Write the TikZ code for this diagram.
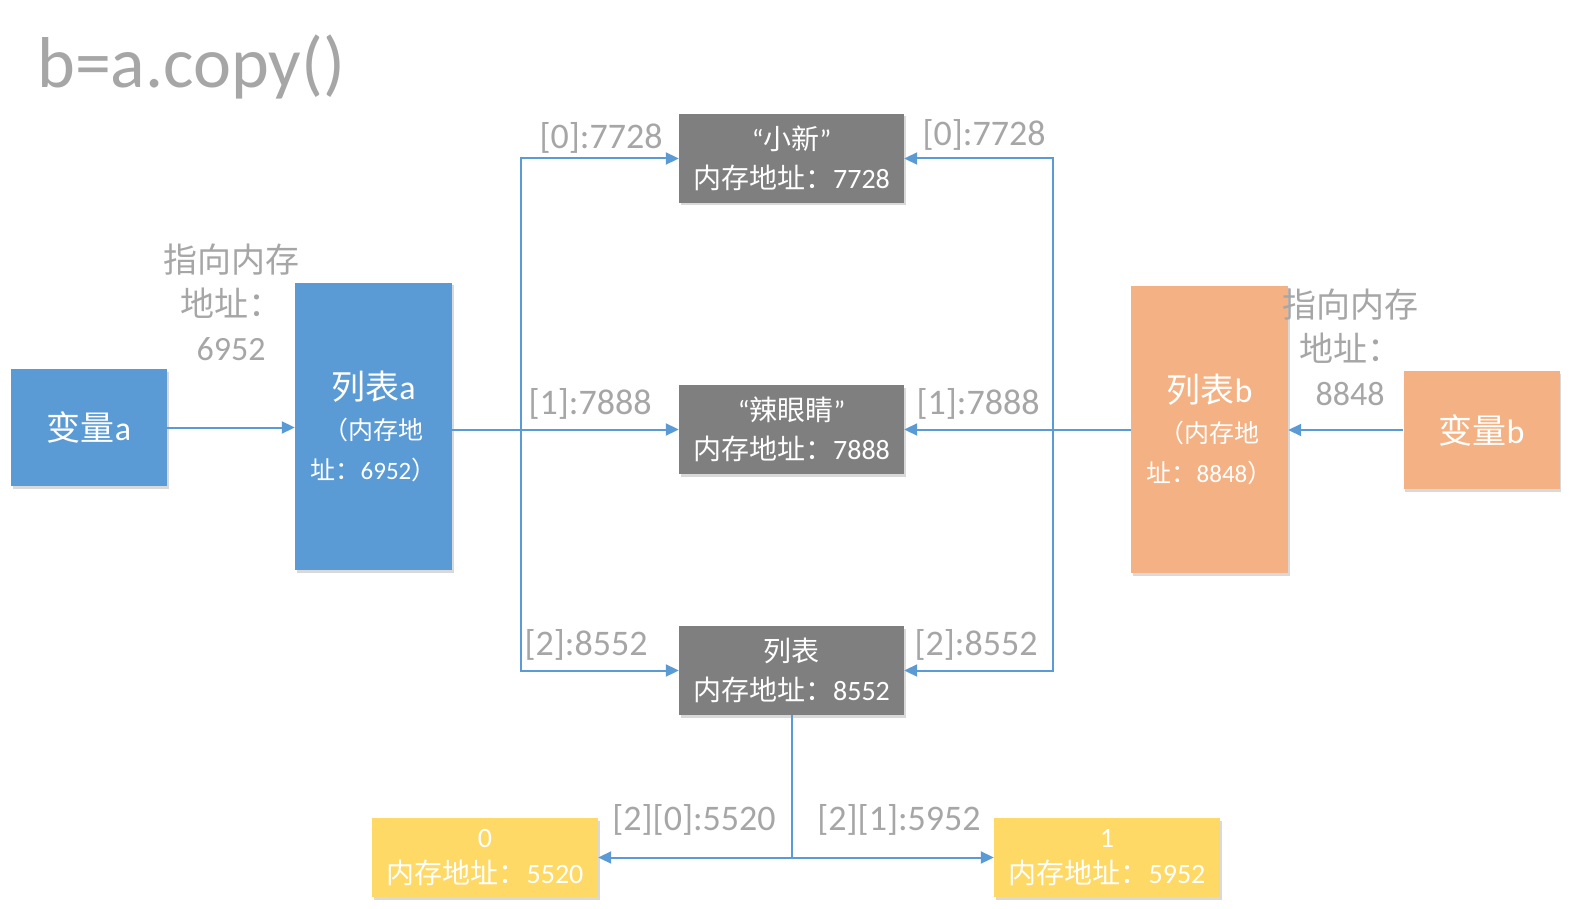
\documentclass[tikz,border=0pt]{standalone}
\usepackage{fontspec}
\setmainfont{Carlito}
\newfontfamily\zhfont{Noto Sans CJK SC}
\newcommand\zh[1]{{\zhfont #1}}
\usetikzlibrary{arrows.meta,shadows}
\definecolor{cblue}{HTML}{5B9BD5}
\definecolor{corange}{HTML}{F4B183}
\definecolor{cdark}{HTML}{7F7F7F}
\definecolor{cyellow}{HTML}{FFD966}
\definecolor{cline}{HTML}{5B9BD5}
\definecolor{clabel}{HTML}{A6A6A6}
\begin{document}
\begin{tikzpicture}[x=1pt,y=-1pt,
  box/.style={inner sep=0pt, align=center, text=white,
    drop shadow={shadow xshift=1.5pt, shadow yshift=-2.5pt, opacity=0.15, fill=black}},
  varbox/.style={box, minimum width=156pt, minimum height=117pt, font=\fontsize{34}{40}\selectfont},
  listbox/.style={box, minimum width=157pt, minimum height=287pt, font=\fontsize{25}{40}\selectfont},
  elbox/.style={box, fill=cdark, minimum width=225pt, minimum height=89pt, font=\fontsize{28}{39}\selectfont},
  subbox/.style={box, fill=cyellow, minimum width=226pt, minimum height=79pt, font=\fontsize{28}{36}\selectfont},
  lbl/.style={inner sep=0pt, text=clabel, font=\fontsize{36}{44}\selectfont, align=center},
  plbl/.style={lbl, font=\fontsize{34}{44}\selectfont},
  conn/.style={draw=cline, line width=2pt},
  arr/.style={conn, -{Triangle[length=13pt,width=12pt]}},
  darr/.style={conn, {Triangle[length=13pt,width=12pt]}-{Triangle[length=13pt,width=12pt]}}
]
\fill[white] (0,0) rectangle (1569,909);
\useasboundingbox (0,0) rectangle (1569,909);

% title
\node[anchor=west, inner sep=0pt, text=clabel, font=\fontsize{72}{84}\selectfont] (title) at (37,67) {b=a.copy()};

% boxes
\node[varbox, fill=cblue] (va) at (89,427.5) {\zh{变量}a};
\node[listbox, fill=cblue] (la) at (373.5,426.5) {{\fontsize{34}{40}\selectfont\zh{列表}a}\\\zh{（内存地}\\\zh{址：}6952\zh{）}};
\node[elbox] (n0) at (791.5,158.5) {“\zh{小新}”\\\zh{内存地址：}7728};
\node[elbox] (n1) at (791.5,429.5) {“\zh{辣眼睛}”\\\zh{内存地址：}7888};
\node[elbox] (n2) at (791.5,670.5) {\zh{列表}\\\zh{内存地址：}8552};
\node[listbox, fill=corange] (lb) at (1209.5,429.5) {{\fontsize{34}{40}\selectfont\zh{列表}b}\\\zh{（内存地}\\\zh{址：}8848\zh{）}};
\node[varbox, fill=corange, minimum height=118pt] (vb) at (1481.5,430) {\zh{变量}b};
\node[subbox] (y0) at (485,857.5) {0\\\zh{内存地址：}5520};
\node[subbox] (y1) at (1107,857.5) {1\\\zh{内存地址：}5952};

% pointer labels
\node[plbl] (pa) at (231,302) {\zh{指向内存}\\\zh{地址：}\\6952};
\node[plbl] (pb) at (1350,347) {\zh{指向内存}\\\zh{地址：}\\8848};

% junction coordinates
\coordinate (ja) at (521,0);
\coordinate (jb) at (1053,0);

% connectors
\draw[arr] (va.east) -- (va.east -| la.west);
\draw[arr] (la.east |- n1.west) -- (n1.west);
\draw[darr] (n0.west) -- (n0.west -| ja) -- (n2.west -| ja) -- (n2.west);
\draw[darr] (n0.east) -- (n0.east -| jb) -- (n2.east -| jb) -- (n2.east);
\draw[arr] (lb.west) -- (n1.east);
\draw[arr] (vb.west) -- (vb.west -| lb.east);
\coordinate (jc) at (n2.south |- y0.east);
\draw[conn] (n2.south) -- (jc);
\draw[darr] (y0.east) -- (y1.west);

% edge labels
\node[lbl] (l0a) at (601,138) {[0]:7728};
\node[lbl] (l0b) at (984,135) {[0]:7728};
\node[lbl] (l1a) at (590,404) {[1]:7888};
\node[lbl] (l1b) at (978,404) {[1]:7888};
\node[lbl] (l2a) at (586,645) {[2]:8552};
\node[lbl] (l2b) at (976,645) {[2]:8552};
\node[lbl] (l3a) at (694,820) {[2][0]:5520};
\node[lbl] (l3b) at (899,820) {[2][1]:5952};
\end{tikzpicture}
\end{document}
